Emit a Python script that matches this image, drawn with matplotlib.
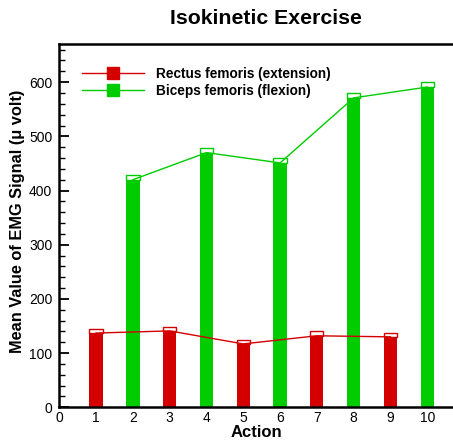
import numpy as np
import matplotlib
matplotlib.use('Agg')
import matplotlib.pyplot as plt
from matplotlib.lines import Line2D

plt.rcParams['font.family'] = ['Liberation Sans', 'DejaVu Sans']

# mean EMG per action, odd actions = extension, even = flexion
ext_actions = [1, 3, 5, 7, 9]
ext_values = [137, 141, 117, 132, 130]
ext_err = [8, 8, 8, 9, 8]
flex_actions = [2, 4, 6, 8, 10]
flex_values = [420, 470, 451, 571, 591]
flex_err = [8, 9, 9, 9, 9]

RED = '#d40000'
GREEN = '#00cc00'
BAR_W = 0.36

fig = plt.figure(figsize=(4.53, 4.40), dpi=100)
ax = fig.add_axes([0.1309, 0.0743, 0.8691, 0.8264])

for xs, vals, errs, col in [(ext_actions, ext_values, ext_err, RED),
                            (flex_actions, flex_values, flex_err, GREEN)]:
    ax.bar(xs, vals, width=BAR_W, color=col, zorder=2)
    # open boxes on top of the bars for the spread
    ax.bar(xs, errs, bottom=vals, width=BAR_W, fill=False,
           edgecolor=col, linewidth=1.0, zorder=3)
    ax.plot(xs, vals, color=col, linewidth=1.0, zorder=4)

ax.set_xlim(0, 10.7)
ax.set_ylim(0, 671)
ax.set_xticks(range(0, 11))
ax.set_yticks(range(0, 601, 100))
ax.set_yticks(range(0, 671, 20), minor=True)
ax.tick_params(axis='x', length=0, labelsize=10, pad=3)
ax.tick_params(axis='y', which='major', direction='in', length=7, width=1.3,
               labelsize=10, pad=5)
ax.tick_params(axis='y', which='minor', direction='in', length=4.3, width=1.0)
ax.spines['right'].set_visible(False)
for s in ['left', 'top', 'bottom']:
    ax.spines[s].set_linewidth(1.8)

ax.set_xlabel('Action', fontsize=12, fontweight='bold', labelpad=0)
fig.text(0.038, 0.497, 'Mean Value of EMG Signal (\u03bc volt)', rotation=90,
         ha='center', va='center', fontsize=11.8, fontweight='bold')
fig.text(0.588, 0.958, 'Isokinetic Exercise', ha='center', va='center',
         fontsize=15.3, fontweight='bold')

handles = [Line2D([], [], color=RED, lw=1, marker='s', markersize=8.6,
                  markerfacecolor=RED, markeredgecolor=RED),
           Line2D([], [], color=GREEN, lw=1, marker='s', markersize=8.6,
                  markerfacecolor=GREEN, markeredgecolor=GREEN)]
ax.legend(handles, ['Rectus femoris (extension)', 'Biceps femoris (flexion)'],
          loc='upper left', bbox_to_anchor=(0.165, 0.864),
          bbox_transform=fig.transFigure, frameon=False,
          prop={'weight': 'bold', 'size': 9.8}, handlelength=4.6,
          handletextpad=0.85, labelspacing=0.22, borderpad=0)

fig.savefig('out.png', dpi=100)
